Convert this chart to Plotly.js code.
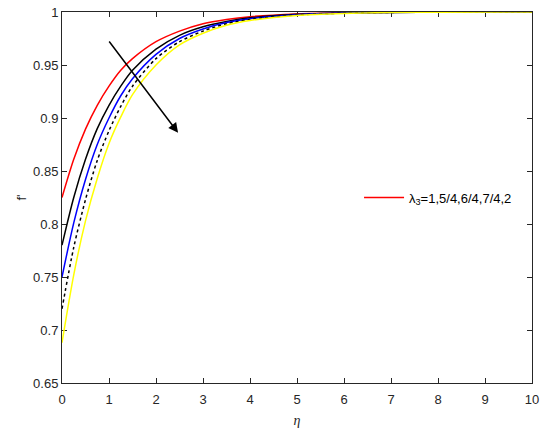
<!DOCTYPE html>
<html>
<head>
<meta charset="utf-8">
<script src="https://cdn.plot.ly/plotly-3.0.1.min.js"></script>
<style>html,body{margin:0;padding:0;background:#fff}#chart{width:550px;height:437px}</style>
</head>
<body>
<div id="chart"></div>
<script>
const eta = [0, 0.25, 0.5, 0.75, 1, 1.25, 1.5, 2, 2.5, 3, 3.5, 4, 5, 6, 7, 8, 10];
const fRed    = [0.825, 0.861, 0.8895, 0.912, 0.930, 0.945, 0.956, 0.972, 0.982, 0.989, 0.993, 0.9956, 0.9982, 0.9993, 0.9997, 0.9999, 1];
const fBlack  = [0.780, 0.825, 0.861, 0.890, 0.912, 0.930, 0.945, 0.965, 0.978, 0.986, 0.991, 0.9945, 0.9978, 0.9991, 0.9996, 0.9999, 1];
const fBlue   = [0.750, 0.801, 0.842, 0.875, 0.900, 0.921, 0.937, 0.960, 0.975, 0.984, 0.990, 0.9937, 0.9975, 0.9990, 0.9996, 0.9998, 1];
const fDotted = [0.720, 0.778, 0.823, 0.860, 0.888, 0.911, 0.930, 0.956, 0.972, 0.982, 0.989, 0.993, 0.9972, 0.9989, 0.9996, 0.9998, 1];
const fYellow = [0.688, 0.752, 0.803, 0.843, 0.876, 0.901, 0.922, 0.950, 0.969, 0.980, 0.9875, 0.992, 0.9968, 0.9987, 0.9995, 0.9998, 1];
const legendText = 'λ<sub>3</sub>=1,5/4,6/4,7/4,2';
const xTicks = [0,1,2,3,4,5,6,7,8,9,10];
const yTicks = [0.65,0.7,0.75,0.8,0.85,0.9,0.95,1];
const yTickText = ['0.65','0.7','0.75','0.8','0.85','0.9','0.95','1'];

const mk = (y, color, dash, show, name) => ({
  x: eta, y: y, type: 'scatter', mode: 'lines',
  line: {color: color, width: 1.5, dash: dash, shape: 'spline', smoothing: 0.8},
  showlegend: show, name: name || ''
});

const data = [
  mk(fRed, '#ff0000', 'solid', true, legendText),
  mk(fBlack, '#000000', 'solid', false),
  mk(fBlue, '#0000ff', 'solid', false),
  mk(fDotted, '#000000', 'dot', false),
  mk(fYellow, '#ffff00', 'solid', false)
];

const axisFont = {family: 'Liberation Sans, Arial, sans-serif', size: 13, color: '#262626'};
const layout = {
  width: 550, height: 437,
  margin: {l: 62, r: 18, t: 12, b: 54},
  paper_bgcolor: '#fff', plot_bgcolor: '#fff',
  showlegend: true,
  legend: {x: 0.632, y: 0.5, xanchor: 'left', yanchor: 'middle', bgcolor: 'rgba(0,0,0,0)',
           font: {family: 'Liberation Sans, Arial, sans-serif', size: 13, color: '#000'}, itemwidth: 40},
  xaxis: {
    range: [0, 10], tickvals: xTicks, ticks: 'inside', ticklen: 5, tickcolor: '#262626',
    showline: true, linecolor: '#262626', linewidth: 1, mirror: 'ticks', showgrid: false, zeroline: false,
    tickfont: axisFont, layer: 'below traces', ticklabelstandoff: 4,
    title: {text: '<i>η</i>', font: {family: 'Liberation Serif, Times New Roman, serif', size: 14, color: '#262626'}, standoff: 9}
  },
  yaxis: {
    range: [0.65, 1], tickvals: yTicks, ticktext: yTickText,
    ticks: 'inside', ticklen: 5, tickcolor: '#262626',
    showline: true, linecolor: '#262626', linewidth: 1, mirror: 'ticks', showgrid: false, zeroline: false,
    tickfont: axisFont, layer: 'below traces',
    title: {text: "f'", font: {family: 'Liberation Sans, Arial, sans-serif', size: 13, color: '#262626'}, standoff: 3}
  },
  annotations: [{
    x: 2.47, y: 0.886, ax: 0.98, ay: 0.9736, xref: 'x', yref: 'y', axref: 'x', ayref: 'y',
    showarrow: true, arrowhead: 2, arrowsize: 1.3, arrowwidth: 1.5, arrowcolor: '#000', text: ''
  }]
};

Plotly.newPlot('chart', data, layout, {displayModeBar: false, staticPlot: true});
</script>
</body>
</html>
